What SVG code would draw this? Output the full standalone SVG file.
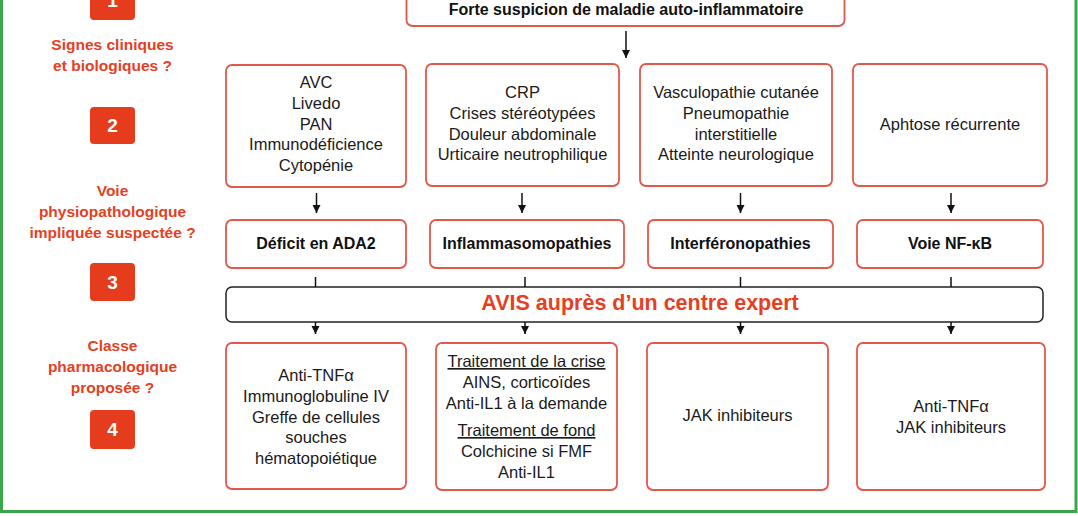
<svg xmlns="http://www.w3.org/2000/svg" width="1078" height="516" viewBox="0 0 1078 516">
<style>
.box{fill:#fff;stroke:#e2584a;stroke-width:1.8}
.avis{fill:#fff;stroke:#222;stroke-width:1.5}
.t{font-family:"Liberation Sans",Arial,sans-serif;font-size:16.5px;fill:#1a1a1a;text-anchor:middle}
.b{font-family:"Liberation Sans",Arial,sans-serif;font-size:16px;font-weight:bold;fill:#111;text-anchor:middle}
.lab{font-family:"Liberation Sans",Arial,sans-serif;font-size:15.5px;font-weight:bold;fill:#e5401f;text-anchor:middle}
.badge{fill:#e53c1e}
.num{font-family:"Liberation Sans",Arial,sans-serif;font-size:19px;font-weight:bold;fill:#fff;text-anchor:middle}
.u{text-decoration:underline}
.c{stroke:#111;stroke-width:1.5;fill:none}
.ca{stroke:#111;stroke-width:1.5;fill:none;marker-end:url(#ah)}
</style>
<defs>
<marker id="ah" markerUnits="userSpaceOnUse" markerWidth="9" markerHeight="9" refX="8" refY="4" orient="auto">
<path d="M0,0 L8,4 L0,8 z" fill="#111"/>
</marker>
</defs>
<rect x="0" y="0" width="1078" height="516" fill="#fff"/>
<rect x="1.5" y="-10" width="1074.5" height="521.5" fill="none" stroke="#3aa84a" stroke-width="3"/>

<g id="steps">
<rect class="badge" x="90" y="-17" width="45" height="37" rx="4"/>
<text class="num" x="112.5" y="7">1</text>
<text class="lab" x="112.5" y="50">Signes cliniques</text>
<text class="lab" x="112.5" y="71">et biologiques ?</text>
<rect class="badge" x="90" y="107" width="45" height="37" rx="4"/>
<text class="num" x="112.5" y="132">2</text>
<text class="lab" x="112.5" y="196">Voie</text>
<text class="lab" x="112.5" y="217">physiopathologique</text>
<text class="lab" x="112.5" y="238">impliquée suspectée ?</text>
<rect class="badge" x="90" y="263" width="45" height="38" rx="4"/>
<text class="num" x="112.5" y="289">3</text>
<text class="lab" x="112.5" y="351">Classe</text>
<text class="lab" x="112.5" y="372">pharmacologique</text>
<text class="lab" x="112.5" y="393">proposée ?</text>
<rect class="badge" x="90" y="410" width="45" height="39" rx="4"/>
<text class="num" x="112.5" y="436">4</text>
</g>

<g id="top">
<rect class="box" x="406.5" y="-10" width="438" height="36" rx="6"/>
<text class="b" x="626" y="15">Forte suspicion de maladie auto-inflammatoire</text>
</g>

<g id="signs-ada2">
<rect class="box" x="226" y="65" width="180" height="122" rx="6"/>
<text class="t" x="316" y="88">AVC</text>
<text class="t" x="316" y="109">Livedo</text>
<text class="t" x="316" y="129.5">PAN</text>
<text class="t" x="316" y="150">Immunodéficience</text>
<text class="t" x="316" y="171">Cytopénie</text>
</g>
<g id="signs-inflam">
<rect class="box" x="426" y="64" width="193" height="122" rx="6"/>
<text class="t" x="522.5" y="98">CRP</text>
<text class="t" x="522.5" y="119">Crises stéréotypées</text>
<text class="t" x="522.5" y="140">Douleur abdominale</text>
<text class="t" x="522.5" y="160">Urticaire neutrophilique</text>
</g>
<g id="signs-ifn">
<rect class="box" x="640" y="64" width="192" height="122" rx="6"/>
<text class="t" x="736" y="98">Vasculopathie cutanée</text>
<text class="t" x="736" y="119">Pneumopathie</text>
<text class="t" x="736" y="140">interstitielle</text>
<text class="t" x="736" y="160">Atteinte neurologique</text>
</g>
<g id="signs-nfkb">
<rect class="box" x="853" y="64" width="194" height="122" rx="6"/>
<text class="t" x="950" y="130">Aphtose récurrente</text>
</g>

<g id="path-ada2">
<rect class="box" x="226" y="220" width="180" height="48" rx="6"/>
<text class="b" x="316" y="249">Déficit en ADA2</text>
</g>
<g id="path-inflam">
<rect class="box" x="430" y="220" width="194" height="48" rx="6"/>
<text class="b" x="527" y="249">Inflammasomopathies</text>
</g>
<g id="path-ifn">
<rect class="box" x="648" y="220" width="185" height="48" rx="6"/>
<text class="b" x="740.5" y="249">Interféronopathies</text>
</g>
<g id="path-nfkb">
<rect class="box" x="857" y="220" width="186" height="48" rx="6"/>
<text class="b" x="950" y="249">Voie NF-κB</text>
</g>

<g id="avis">
<rect class="avis" x="226" y="287" width="817" height="35" rx="6"/>
<text x="640" y="310" font-family="Liberation Sans, Arial, sans-serif" font-size="21.5" font-weight="bold" fill="#e5401f" text-anchor="middle">AVIS auprès d’un centre expert</text>
</g>

<g id="tx-ada2">
<rect class="box" x="226" y="343" width="180" height="146" rx="6"/>
<text class="t" x="316" y="381">Anti-TNFα</text>
<text class="t" x="316" y="402">Immunoglobuline IV</text>
<text class="t" x="316" y="423">Greffe de cellules</text>
<text class="t" x="316" y="443">souches</text>
<text class="t" x="316" y="464">hématopoiétique</text>
</g>
<g id="tx-inflam">
<rect class="box" x="436" y="343" width="181" height="147" rx="6"/>
<text class="t u" x="526.5" y="367">Traitement de la crise</text>
<text class="t" x="526.5" y="388">AINS, corticoïdes</text>
<text class="t" x="526.5" y="409">Anti-IL1 à la demande</text>
<text class="t u" x="526.5" y="436">Traitement de fond</text>
<text class="t" x="526.5" y="457">Colchicine si FMF</text>
<text class="t" x="526.5" y="478">Anti-IL1</text>
</g>
<g id="tx-ifn">
<rect class="box" x="647" y="343" width="181" height="147" rx="6"/>
<text class="t" x="737.5" y="421">JAK inhibiteurs</text>
</g>
<g id="tx-nfkb">
<rect class="box" x="857" y="343" width="188" height="147" rx="6"/>
<text class="t" x="951" y="412">Anti-TNFα</text>
<text class="t" x="951" y="433">JAK inhibiteurs</text>
</g>

<g id="connectors">
<line class="ca" x1="626" y1="31" x2="626" y2="58"/>
<line class="ca" x1="316.5" y1="193" x2="316.5" y2="213"/>
<line class="ca" x1="522" y1="193" x2="522" y2="213"/>
<line class="ca" x1="740.5" y1="193" x2="740.5" y2="213"/>
<line class="ca" x1="951" y1="193" x2="951" y2="213"/>
<line class="c" x1="315.5" y1="277" x2="315.5" y2="287"/>
<line class="c" x1="525" y1="277" x2="525" y2="287"/>
<line class="c" x1="740.5" y1="277" x2="740.5" y2="287"/>
<line class="c" x1="951" y1="277" x2="951" y2="287"/>
<line class="ca" x1="315.5" y1="322" x2="315.5" y2="334"/>
<line class="ca" x1="525" y1="322" x2="525" y2="334"/>
<line class="ca" x1="740.5" y1="322" x2="740.5" y2="334"/>
<line class="ca" x1="951" y1="322" x2="951" y2="334"/>
</g>
</svg>
